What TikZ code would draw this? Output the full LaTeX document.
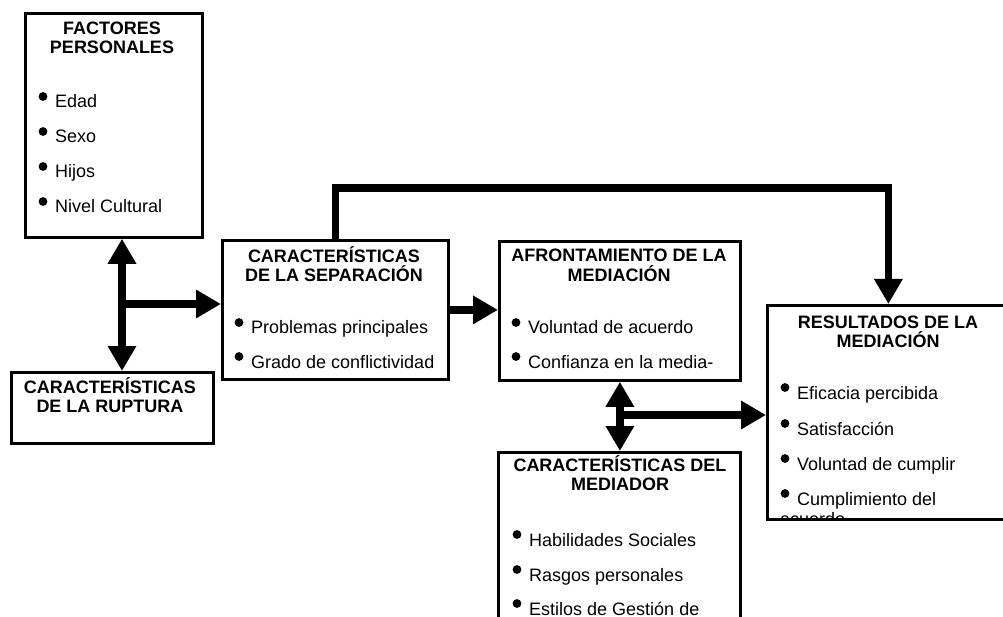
\documentclass[tikz,border=0pt]{standalone}
\usepackage{fontspec}
\setmainfont{Liberation Sans}
\usetikzlibrary{arrows.meta}
\newcommand\bitem[3]{\node[item] (#1) at (#2) {#3};
  \fill ([xshift=-12pt,yshift=11.5pt]#1.base west) circle (4.4pt);}
\begin{document}
\begin{tikzpicture}[x=1pt,y=-1pt,
  box/.style={draw, line width=2.8pt, inner sep=0pt, anchor=north west},
  ttl/.style={font=\fontsize{18}{20}\selectfont\bfseries, anchor=base, inner sep=0pt},
  item/.style={font=\fontsize{18}{20}\selectfont, anchor=base west, inner sep=0pt},
  arr/.style={line width=7.5pt, -{Triangle[length=25pt,width=27pt]}},
  darr/.style={line width=7.5pt, {Triangle[length=25pt,width=27pt]}-{Triangle[length=25pt,width=27pt]}}]
\useasboundingbox (0,0) rectangle (1003,617);
\clip (0,0) rectangle (1003,617);
\fill[white] (0,0) rectangle (1003,617);

% boxes
\node[box, minimum width=177pt, minimum height=224pt] (factores) at (24,12) {};
\node[box, minimum width=202pt, minimum height=71pt] (ruptura) at (10,371) {};
\node[box, minimum width=226pt, minimum height=139pt] (separacion) at (221,239) {};
\node[box, minimum width=241pt, minimum height=139pt] (afront) at (498,240) {};
\node[box, minimum width=242pt, minimum height=214pt] (resultados) at (766,304) {};
\node[box, minimum width=242pt, minimum height=220pt] (mediador) at (497,451) {};

% titles
\node[ttl] (f1) at (112,35) {FACTORES};
\node[ttl] (f2) at (112,54) {PERSONALES};
\node[ttl] (r1) at (110,393) {CARACTERÍSTICAS};
\node[ttl] (r2) at (110,412) {DE LA RUPTURA};
\node[ttl] (s1) at (334,263) {CARACTERÍSTICAS};
\node[ttl] (s2) at (334,282) {DE LA SEPARACIÓN};
\node[ttl] (a1) at (619,262) {AFRONTAMIENTO DE LA};
\node[ttl] (a2) at (619,282) {MEDIACIÓN};
\node[ttl] (e1) at (888,328) {RESULTADOS DE LA};
\node[ttl] (e2) at (888,347) {MEDIACIÓN};
\node[ttl] (m1) at (620,471) {CARACTERÍSTICAS DEL};
\node[ttl] (m2) at (620,490) {MEDIADOR};

% items
\bitem{fi1}{55,108}{Edad}
\bitem{fi2}{55,143}{Sexo}
\bitem{fi3}{55,178}{Hijos}
\bitem{fi4}{55,213}{Nivel Cultural}
\bitem{si1}{251,334}{Problemas principales}
\bitem{si2}{251,368}{Grado de conflictividad}
\bitem{ai1}{528,334}{Voluntad de acuerdo}
\bitem{ai2}{528,368}{Confianza en la media-}
\bitem{ei1}{797,399}{Eficacia percibida}
\bitem{ei2}{797,435}{Satisfacción}
\bitem{ei3}{797,470}{Voluntad de cumplir}
\bitem{ei4}{797,505}{Cumplimiento del}
\begin{scope}
\clip (resultados.north west) rectangle (resultados.south east);
\node[item] (ei5) at (780,525) {acuerdo};
\end{scope}
\bitem{mi1}{529,546}{Habilidades Sociales}
\bitem{mi2}{529,581}{Rasgos personales}
\bitem{mi3}{529,615}{Estilos de Gestión de}

% connectors
\coordinate (j1) at (122,304);
\coordinate (j2) at (619,415);
\draw[darr] (factores.south -| j1) -- (ruptura.north -| j1);
\draw[arr] (j1) -- (separacion.west |- j1);
\draw[arr] (separacion.east) -- (afront.west |- separacion.east);
\draw[arr] (separacion.north) -- ++(0,-51) -| (resultados.north);
\draw[darr] (afront.south) -- (afront.south |- mediador.north);
\draw[arr] (j2) -- (resultados.west |- j2);
\end{tikzpicture}
\end{document}
